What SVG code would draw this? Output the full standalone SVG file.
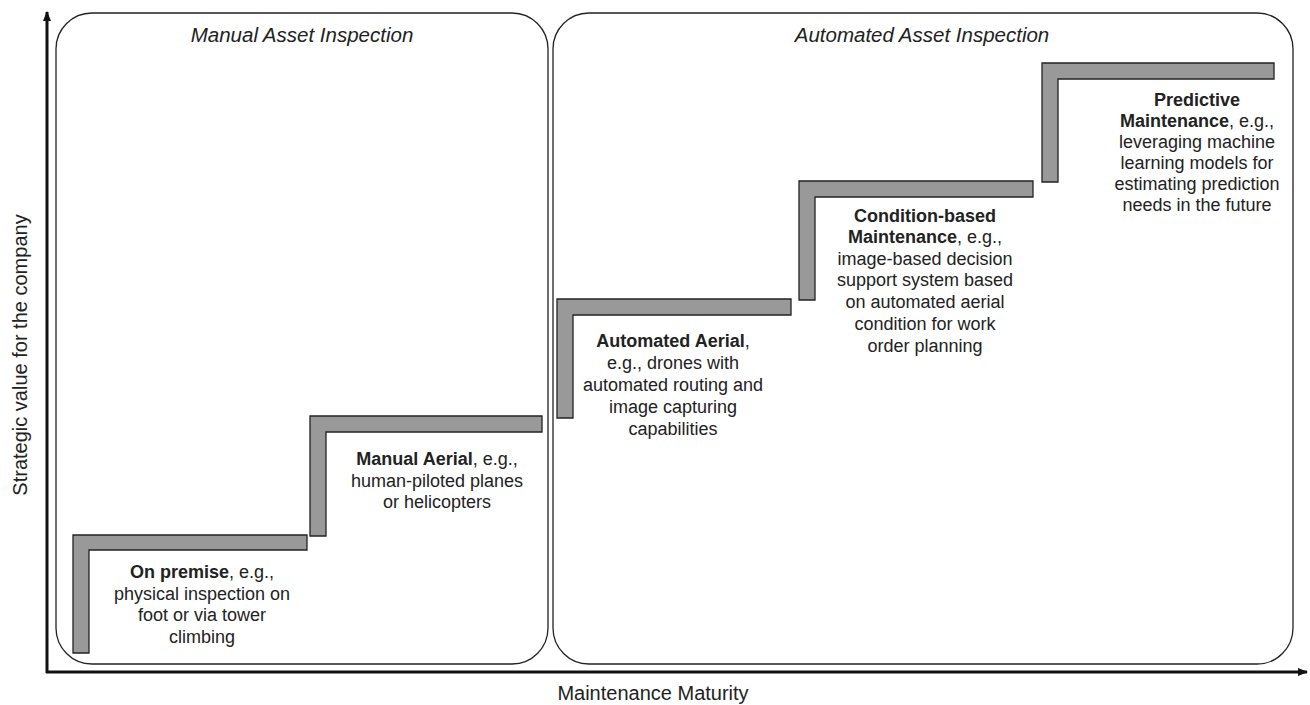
<svg xmlns="http://www.w3.org/2000/svg" width="1310" height="705" viewBox="0 0 1310 705">
<defs>
<marker id="ah" markerWidth="10" markerHeight="8" refX="9" refY="4" orient="auto" markerUnits="userSpaceOnUse">
<path d="M0,0 L10,4 L0,8 Z" fill="#111"/>
</marker>
<style>
.box{fill:#fff;stroke:#222;stroke-width:1.3}
.step{fill:#999;stroke:#222;stroke-width:1.3}
.t{font-family:"Liberation Sans",Arial,sans-serif;font-size:18px;fill:#222;text-anchor:middle}
.b{font-weight:bold}
.title{font-family:"Liberation Sans",Arial,sans-serif;font-size:20.5px;font-style:italic;fill:#222;text-anchor:middle}
.ax{font-family:"Liberation Sans",Arial,sans-serif;font-size:20px;fill:#222;text-anchor:middle}
.axis{stroke:#111;stroke-width:3;fill:none}
</style>
</defs>
<rect width="1310" height="705" fill="#fff"/>
<g id="group-manual">
<rect class="box" x="56" y="13" width="492" height="651" rx="36" ry="36"/>
<text class="title" x="302" y="42">Manual Asset Inspection</text>
</g>
<g id="group-automated">
<rect class="box" x="553" y="13" width="740" height="651" rx="36" ry="36"/>
<text class="title" x="922" y="42">Automated Asset Inspection</text>
</g>
<g id="axes">
<line class="axis" x1="47" y1="673" x2="47" y2="12" marker-end="url(#ah)"/>
<line class="axis" x1="46" y1="672" x2="1307" y2="672" marker-end="url(#ah)"/>
<text class="ax" transform="translate(27,355) rotate(-90)" x="0" y="0">Strategic value for the company</text>
<text class="ax" x="653" y="700">Maintenance Maturity</text>
</g>
<g id="node-on-premise">
<path class="step" d="M73,535 H307 V550 H89 V653 H73 Z"/>
<text class="t" x="202" y="578"><tspan class="b">On premise</tspan>, e.g.,</text>
<text class="t" x="202" y="600">physical inspection on</text>
<text class="t" x="202" y="621">foot or via tower</text>
<text class="t" x="202" y="643">climbing</text>
</g>
<g id="node-manual-aerial">
<path class="step" d="M310,416 H542 V432 H326 V536 H310 Z"/>
<text class="t" x="437" y="465"><tspan class="b">Manual Aerial</tspan>, e.g.,</text>
<text class="t" x="437" y="487">human-piloted planes</text>
<text class="t" x="437" y="508">or helicopters</text>
</g>
<g id="node-automated-aerial">
<path class="step" d="M557,299 H791 V315 H573 V418 H557 Z"/>
<text class="t" x="673" y="347"><tspan class="b">Automated Aerial</tspan>,</text>
<text class="t" x="673" y="369">e.g., drones with</text>
<text class="t" x="673" y="391">automated routing and</text>
<text class="t" x="673" y="413">image capturing</text>
<text class="t" x="673" y="435">capabilities</text>
</g>
<g id="node-condition-based">
<path class="step" d="M799,181 H1033 V197 H815 V300 H799 Z"/>
<text class="t" x="925" y="222" font-weight="bold">Condition-based</text>
<text class="t" x="925" y="243"><tspan class="b">Maintenance</tspan>, e.g.,</text>
<text class="t" x="925" y="265">image-based decision</text>
<text class="t" x="925" y="286">support system based</text>
<text class="t" x="925" y="308">on automated aerial</text>
<text class="t" x="925" y="330">condition for work</text>
<text class="t" x="925" y="352">order planning</text>
</g>
<g id="node-predictive">
<path class="step" d="M1042,63 H1274 V79 H1058 V182 H1042 Z"/>
<text class="t" x="1197" y="106" font-weight="bold">Predictive</text>
<text class="t" x="1197" y="127"><tspan class="b">Maintenance</tspan>, e.g.,</text>
<text class="t" x="1197" y="148">leveraging machine</text>
<text class="t" x="1197" y="169">learning models for</text>
<text class="t" x="1197" y="190">estimating prediction</text>
<text class="t" x="1197" y="211">needs in the future</text>
</g>
</svg>
